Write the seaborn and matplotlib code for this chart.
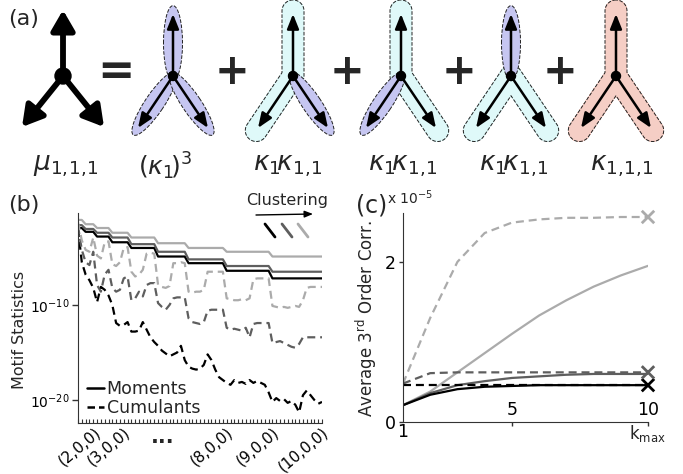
import numpy as np
import pandas as pd
import matplotlib
matplotlib.use("Agg")
import matplotlib.pyplot as plt
import seaborn as sns
from matplotlib.patches import Ellipse, Circle
from matplotlib.lines import Line2D
from matplotlib.ticker import NullLocator

# ---------------- data: panel (b) (log10 of motif statistics) ----------------
# motif index 0..64, grouped by order k = 2..10 (block sizes 2,3,4,5,7,8,10,12,14)
mom_black = [-1.9, -1.9,
             -2.3, -2.3, -2.3,
             -2.8, -2.8, -2.8, -2.8,
             -3.4, -3.4, -3.4, -3.4, -3.4,
             -4.0, -4.0, -4.0, -4.0, -4.0, -4.0, -4.0,
             -4.9, -4.9, -4.9, -4.9, -4.9, -4.9, -4.9, -4.9,
             -5.6, -5.6, -5.6, -5.6, -5.6, -5.6, -5.6, -5.6, -5.6, -5.6,
             -6.4, -6.4, -6.4, -6.4, -6.4, -6.4, -6.4, -6.4, -6.4, -6.4, -6.4, -6.4,
             -7.2, -7.2, -7.2, -7.2, -7.2, -7.2, -7.2, -7.2, -7.2, -7.2, -7.2, -7.2, -7.2, -7.2]
mom_dark = [-1.6, -1.6,
            -2.0, -2.0, -2.0,
            -2.4, -2.4, -2.4, -2.4,
            -2.9, -2.9, -2.9, -2.9, -2.9,
            -3.6, -3.6, -3.6, -3.6, -3.6, -3.6, -3.6,
            -4.4, -4.4, -4.4, -4.4, -4.4, -4.4, -4.4, -4.4,
            -5.2, -5.2, -5.2, -5.2, -5.2, -5.2, -5.2, -5.2, -5.2, -5.2,
            -5.9, -5.9, -5.9, -5.9, -5.9, -5.9, -5.9, -5.9, -5.9, -5.9, -5.9, -5.9,
            -6.5, -6.5, -6.5, -6.5, -6.5, -6.5, -6.5, -6.5, -6.5, -6.5, -6.5, -6.5, -6.5, -6.5]
mom_light = [-1.05, -1.05,
             -1.5, -1.5, -1.5,
             -1.9, -1.9, -1.9, -1.9,
             -2.4, -2.4, -2.4, -2.4, -2.4,
             -2.9, -2.9, -2.9, -2.9, -2.9, -2.9, -2.9,
             -3.5, -3.5, -3.5, -3.5, -3.5, -3.5, -3.5, -3.5,
             -4.0, -4.0, -4.0, -4.0, -4.0, -4.0, -4.0, -4.0, -4.0, -4.0,
             -4.4, -4.4, -4.4, -4.4, -4.4, -4.4, -4.4, -4.4, -4.4, -4.4, -4.4, -4.4,
             -4.9, -4.9, -4.9, -4.9, -4.9, -4.9, -4.9, -4.9, -4.9, -4.9, -4.9, -4.9, -4.9, -4.9]
cum_black = [-2.0, -5.5,
             -6.8, -7.4, -8.2,
             -9.7, -8.1, -8.4, -9.0,
             -10.0, -11.9, -12.2, -12.1, -11.8,
             -12.8, -12.8, -12.7, -11.8, -12.6, -13.4, -13.9,
             -14.3, -14.8, -15.1, -15.4, -15.2, -15.0, -14.3, -15.8,
             -16.5, -16.7, -16.8, -16.7, -16.3, -15.2, -15.8, -16.8, -17.6, -17.9,
             -18.2, -18.4, -17.9, -18.2, -18.1, -18.3, -17.9, -18.2, -18.0, -18.2, -18.4, -19.2,
             -20.2, -19.8, -20.1, -19.9, -20.3, -20.1, -20.5, -21.3, -19.5, -19.0, -19.5, -20.0, -20.4, -20.2]
cum_dark = [-1.7, -4.2,
            -5.5, -5.8, -4.4,
            -7.9, -8.6, -6.8, -6.3,
            -8.2, -8.6, -8.4, -7.2, -7.0,
            -9.5, -9.3, -8.6, -9.1, -7.9, -7.7, -7.7,
            -9.8, -10.2, -10.5, -10.0, -9.3, -9.2, -9.2, -9.2,
            -11.4, -11.8, -11.9, -12.0, -11.8, -10.6, -10.5, -10.5, -10.5, -10.5,
            -12.4, -12.6, -12.5, -12.6, -12.7, -12.4, -13.4, -12.0, -11.9, -11.9, -11.9, -11.9,
            -14.0, -13.9, -13.8, -14.0, -14.2, -14.4, -14.5, -14.1, -13.4, -13.4, -13.4, -13.4, -13.4, -13.4]
cum_light = [-1.3, -3.2,
             -4.2, -4.4, -2.9,
             -4.8, -5.1, -3.4, -3.3,
             -5.7, -5.9, -5.5, -4.0, -3.9,
             -6.5, -7.0, -6.8, -6.3, -4.6, -4.5, -4.6,
             -7.9, -8.1, -8.2, -8.0, -5.6, -5.6, -5.5, -5.6,
             -8.6, -8.7, -8.6, -8.6, -8.4, -6.5, -6.5, -6.5, -6.5, -6.5,
             -9.3, -9.4, -9.5, -9.5, -9.4, -9.5, -9.3, -7.3, -7.2, -7.2, -7.2, -7.2,
             -10.1, -10.2, -10.3, -10.2, -10.3, -10.2, -10.1, -10.2, -9.5, -8.2, -8.1, -8.1, -8.1, -8.1]
b_tick_pos = [0.5, 7.9, 34.9, 47.1, 59.2]
b_tick_labels = ["(2,0,0)", "(3,0,0)", "(8,0,0)", "(9,0,0)", "(10,0,0)"]

# ---------------- data: panel (c) (x 1e-5) ----------------
kmax = [1, 2, 3, 4, 5, 6, 7, 8, 9, 10]
c_light_dash = [0.48, 1.30, 2.00, 2.36, 2.49, 2.53, 2.55, 2.55, 2.56, 2.56]
c_light_solid = [0.21, 0.38, 0.62, 0.86, 1.10, 1.33, 1.52, 1.69, 1.83, 1.95]
c_dark_dash = [0.48, 0.61, 0.62, 0.62, 0.62, 0.62, 0.62, 0.62, 0.62, 0.62]
c_dark_solid = [0.21, 0.36, 0.46, 0.51, 0.55, 0.57, 0.59, 0.60, 0.60, 0.60]
c_black_dash = [0.46, 0.46, 0.46, 0.46, 0.46, 0.46, 0.46, 0.46, 0.46, 0.46]
c_black_solid = [0.21, 0.34, 0.41, 0.44, 0.45, 0.46, 0.46, 0.46, 0.46, 0.46]
c_end_levels = ["black", "dark", "light"]
c_end_values = [0.46, 0.62, 2.56]

# ---------------- style ----------------
sns.set_style("ticks")
plt.rcParams["font.family"] = ["DejaVu Sans"]
plt.rcParams["axes.edgecolor"] = "#333333"
plt.rcParams["xtick.color"] = "#333333"
plt.rcParams["ytick.color"] = "#333333"
plt.rcParams["xtick.labelcolor"] = "black"
plt.rcParams["ytick.labelcolor"] = "black"
palette = {"black": "#000000", "dark": "#5e5e5e", "light": "#ababab"}
dash_map = {"Moments": "", "Cumulants": (3.6, 2.2)}

W, H = 683, 474
fig = plt.figure(figsize=(W / 100, H / 100), dpi=100)


def fx(px):
    return px / W


def fy(py):
    return 1 - py / H


# ================= panel (a) : diagram =================
ax_a = fig.add_axes([0, 1 - 190 / H, 1, 190 / H])
ax_a.set_xlim(0, W)
ax_a.set_ylim(190, 0)
ax_a.axis("off")

LAV = "#c6c6f1"
CYAN = "#dff9f9"
PINK = "#f5cec5"
NODE_Y = 76


def arms(cx):
    return {"top": (cx, 14), "bl": (cx - 35, 128), "br": (cx + 35, 128)}


def seg_dist(X, Y, p, q):
    px, py = p
    qx, qy = q
    dx, dy = qx - px, qy - py
    t = np.clip(((X - px) * dx + (Y - py) * dy) / (dx * dx + dy * dy), 0, 1)
    return np.hypot(X - (px + t * dx), Y - (py + t * dy))


def region(cx, keys, color, r=11.0):
    node = (cx, NODE_Y)
    X, Y = np.meshgrid(np.arange(cx - 62, cx + 62.5, 0.5), np.arange(0, 148, 0.5))
    D = np.full(X.shape, 1e9)
    for k in keys:
        tx, ty = arms(cx)[k]
        vx, vy = tx - node[0], ty - node[1]
        L = np.hypot(vx, vy)
        tip = (tx + vx / L * 3, ty + vy / L * 3)
        D = np.minimum(D, seg_dist(X, Y, node, tip))
    ax_a.contourf(X, Y, D, levels=[-1, r], colors=[color], zorder=1)
    ax_a.contour(X, Y, D, levels=[r], colors="#222222", linewidths=0.7,
                 linestyles="--", zorder=2)


def lav_ellipse(cx, key):
    node = np.array([cx, NODE_Y], float)
    tip = np.array(arms(cx)[key], float)
    v = tip - node
    L = np.hypot(*v)
    c = node + v * 0.53
    ang = np.degrees(np.arctan2(v[1], v[0]))
    ax_a.add_patch(Ellipse(c, width=L + 13, height=19, angle=ang, facecolor=LAV,
                           edgecolor="#222222", linestyle="--", linewidth=0.7, zorder=2))


def motif(cx, big=False):
    if big:
        node = (63, NODE_Y)
        tips = [(63, 10), (22, 127), (104, 127)]
        style = "-|>,head_length=0.55,head_width=0.32"
        lw, ms, rad = 4.2, 22, 8
    else:
        node = (cx, NODE_Y)
        tips = list(arms(cx).values())
        style = "-|>,head_length=0.55,head_width=0.22"
        lw, ms, rad = 1.8, 16, 4.5
    for t in tips:
        ax_a.annotate("", xy=t, xytext=node,
                      arrowprops=dict(arrowstyle=style, color="black", lw=lw,
                                      shrinkA=0, shrinkB=0, mutation_scale=ms),
                      zorder=5)
    ax_a.add_patch(Circle(node, rad, color="black", zorder=6))


M1, M2, M3, M4, M5 = 173, 293, 401, 511, 616
for k in ["top", "bl", "br"]:
    lav_ellipse(M1, k)
region(M2, ["top", "bl"], CYAN)
lav_ellipse(M2, "br")
region(M3, ["top", "br"], CYAN)
lav_ellipse(M3, "bl")
region(M4, ["bl", "br"], CYAN)
lav_ellipse(M4, "top")
region(M5, ["top", "bl", "br"], PINK)

motif(63, big=True)
for m in [M1, M2, M3, M4, M5]:
    motif(m)

ax_a.text(116, 72, "=", fontsize=32, fontweight="bold", ha="center", va="center")
for px in [232, 347, 459, 560]:
    ax_a.text(px, 72, "+", fontsize=30, fontweight="bold", ha="center", va="center")

lab_y = 166
ax_a.text(66, lab_y, r"$\mu_{1,\!1,\!1}$", fontsize=19, ha="center", va="center")
ax_a.text(165, lab_y, r"$(\kappa_1\!)^3$", fontsize=18, ha="center", va="center")
for px in [288, 403, 514]:
    ax_a.text(px, lab_y, r"$\kappa_1\!\kappa_{1,\!1}$", fontsize=19, ha="center", va="center")
ax_a.text(622, lab_y, r"$\kappa_{1,\!1,\!1}$", fontsize=19, ha="center", va="center")
fig.text(fx(8), fy(19), "(a)", fontsize=16, va="center", ha="left")

# ================= panel (b) =================
ax_b = fig.add_axes([fx(78), fy(423), fx(322) - fx(78), fy(213) - fy(423)])
idx = np.arange(len(mom_black))
series_b = [("black", "Moments", mom_black), ("dark", "Moments", mom_dark),
            ("light", "Moments", mom_light), ("black", "Cumulants", cum_black),
            ("dark", "Cumulants", cum_dark), ("light", "Cumulants", cum_light)]
df_b = pd.concat([pd.DataFrame({"idx": idx, "value": np.power(10.0, vals),
                                "level": lev, "stat": st})
                  for lev, st, vals in series_b], ignore_index=True)
sns.lineplot(data=df_b, x="idx", y="value", hue="level", style="stat",
             palette=palette, dashes=dash_map, estimator=None, sort=False,
             legend=False, linewidth=1.6, ax=ax_b)
ax_b.set_yscale("log")
ax_b.set_ylim(10 ** -22.42, 10 ** -0.32)
ax_b.set_xlim(0, 64)
ax_b.set_yticks([1e-20, 1e-10])
ax_b.yaxis.set_minor_locator(NullLocator())
ax_b.tick_params(axis="y", labelsize=10, length=4, width=1, pad=2)
ax_b.set_xticks(b_tick_pos)
ax_b.set_xticklabels(b_tick_labels, rotation=40, ha="center", va="top", fontsize=11)
ax_b.set_xticks(idx, minor=True)
ax_b.tick_params(axis="x", which="major", length=0, pad=1)
ax_b.tick_params(axis="x", which="minor", direction="in", length=3, width=0.8)
sns.despine(ax=ax_b)
ax_b.set_xlabel("")
ax_b.set_ylabel("Motif Statistics", fontsize=11.5)
ax_b.yaxis.set_label_coords((27 - 78) / 244, (423 - 330) / 210)

leg_handles = [Line2D([], [], color="black", lw=1.8),
               Line2D([], [], color="black", lw=1.8, dashes=(3.0, 1.6))]
ax_b.legend(leg_handles, ["Moments", "Cumulants"], loc="lower left",
            bbox_to_anchor=(0.035, 0.03), frameon=False, fontsize=12.5,
            handlelength=1.0, handletextpad=0.15, labelspacing=0.05, borderpad=0,
            borderaxespad=0)
ax_b.text((163 - 78) / 244, (423 - 437) / 210, "...", transform=ax_b.transAxes,
          ha="center", va="center", fontsize=15, fontweight="bold")

# clustering annotation
ax_b.text((287 - 78) / 244, (423 - 200) / 210, "Clustering", transform=ax_b.transAxes,
          ha="center", va="center", fontsize=11.5)
ax_b.annotate("", xy=((313 - 78) / 244, (423 - 214) / 210),
              xytext=((256 - 78) / 244, (423 - 215) / 210),
              xycoords="axes fraction", textcoords="axes fraction",
              arrowprops=dict(arrowstyle="-|>,head_length=0.5,head_width=0.2",
                              color="black", lw=1.0, shrinkA=0, shrinkB=0,
                              mutation_scale=10))
for (x0, col) in [(265, palette["black"]), (282, palette["dark"]), (298, palette["light"])]:
    ax_b.add_line(Line2D([(x0 - 78) / 244, (x0 + 10 - 78) / 244],
                         [(423 - 224) / 210, (423 - 237) / 210],
                         transform=ax_b.transAxes, color=col, lw=2.0, clip_on=False))
fig.text(fx(8), fy(205), "(b)", fontsize=16, va="center", ha="left")

# ================= panel (c) =================
ax_c = fig.add_axes([fx(403), fy(422), fx(648) - fx(403), fy(213) - fy(422)])
series_c = [("light", "Cumulants", c_light_dash), ("light", "Moments", c_light_solid),
            ("dark", "Cumulants", c_dark_dash), ("dark", "Moments", c_dark_solid),
            ("black", "Cumulants", c_black_dash), ("black", "Moments", c_black_solid)]
df_c = pd.concat([pd.DataFrame({"k": kmax, "value": vals, "level": lev, "stat": st})
                  for lev, st, vals in series_c], ignore_index=True)
sns.lineplot(data=df_c, x="k", y="value", hue="level", style="stat",
             palette=palette, dashes=dash_map, estimator=None, sort=False,
             legend=False, linewidth=1.6, ax=ax_c)
df_end = pd.DataFrame({"k": [10, 10, 10], "value": c_end_values, "level": c_end_levels})
sns.scatterplot(data=df_end, x="k", y="value", hue="level", palette=palette,
                marker="x", s=80, linewidth=2.0, legend=False, ax=ax_c,
                clip_on=False, zorder=5)
ax_c.set_xlim(1, 10)
ax_c.set_ylim(0, 2.61)
ax_c.set_yticks([0, 2])
ax_c.set_yticklabels(["0", "2"])
ax_c.tick_params(axis="y", labelsize=12.5, length=3, width=1, pad=2)
ax_c.set_xticks([5, 10])
ax_c.set_xticklabels(["5", "10"])
ax_c.tick_params(axis="x", which="major", labelsize=12.5, length=3, width=1, pad=-18)
ax_c.set_xticks([1], minor=True)
ax_c.set_xticklabels(["1"], minor=True)
ax_c.tick_params(axis="x", which="minor", labelsize=12.5, length=0, pad=1)
sns.despine(ax=ax_c)
ax_c.set_xlabel("")
ax_c.set_ylabel(r"Average 3$^{\mathrm{rd}}$ Order Corr.", fontsize=12)
ax_c.yaxis.set_label_coords((379 - 403) / 245, (422 - 318) / 209)
ax_c.text((647 - 403) / 245, (422 - 434) / 209, r"k$_{\mathrm{max}}$",
          transform=ax_c.transAxes, ha="center", va="center", fontsize=12)
fig.text(fx(356), fy(206), "(c)", fontsize=17, va="center", ha="left")
fig.text(fx(387), fy(198), r"x 10$^{-5}$", fontsize=10, va="center", ha="left")

fig.savefig("out.png", dpi=100)
